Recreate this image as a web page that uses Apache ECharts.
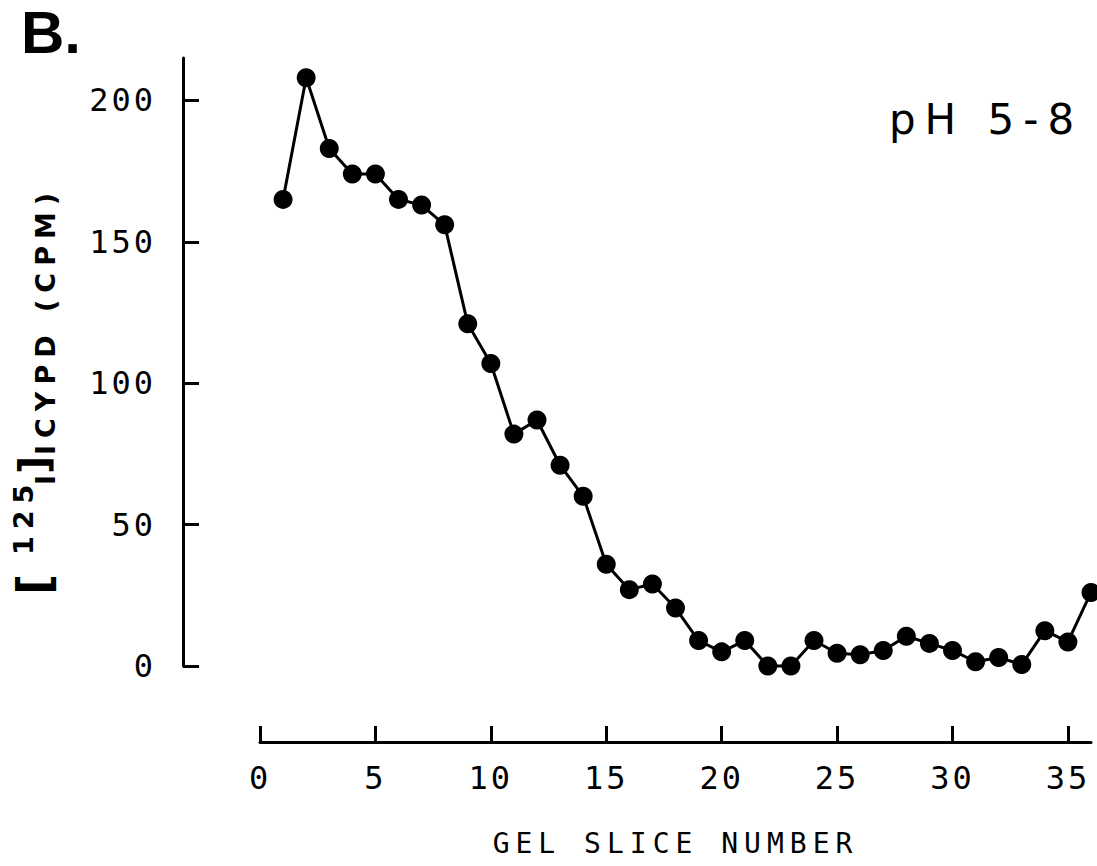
<!DOCTYPE html>
<html>
<head>
<meta charset="utf-8">
<script src="https://cdn.jsdelivr.net/npm/echarts@6/dist/echarts.min.js"></script>
<style>
  html, body { margin: 0; padding: 0; background: #fff; }
  #chart { width: 1097px; height: 866px; }
  text[style*="lsP"] { letter-spacing: 9px; }
  text[style*="lsX"] { letter-spacing: 6px; }
  text[style*="lsY"] { letter-spacing: 7px; }
  text[style*="lsS"] { letter-spacing: 7px; }
  text[style*="lsT"] { letter-spacing: 3px; }
</style>
</head>
<body>
<div id="chart"></div>
<script>
// Data
const slices = [1,2,3,4,5,6,7,8,9,10,11,12,13,14,15,16,17,18,19,20,21,22,23,24,25,26,27,28,29,30,31,32,33,34,35,36];
const cpm = [165,208,183,174,174,165,163,156,121,107,82,87,71,60,36,27,29,20.5,9,5,9,0,0,9,4.5,4,5.5,10.5,8,5.5,1.5,3,0.5,12.5,8.5,26];
const xTicks = [0,5,10,15,20,25,30,35];
const yTicks = [0,50,100,150,200];
const xTitle = 'GEL SLICE NUMBER';
const panelLabel = 'B.';
const condition = 'pH 5-8';

const chart = echarts.init(document.getElementById('chart'), null, { renderer: 'svg' });

const seriesData = slices.map((s, i) => [s, cpm[i]]);

const capFont = "'DejaVu Sans', lsY";
const option = {
  backgroundColor: '#ffffff',
  animation: false,
  grid: { left: 260, right: 6, top: 58, bottom: 200, containLabel: false, outerBoundsMode: 'none' },
  xAxis: {
    type: 'value',
    min: 0,
    max: 36,
    interval: 5,
    offset: 76,
    position: 'bottom',
    name: xTitle,
    nameLocation: 'middle',
    nameGap: 101,
    nameTextStyle: { fontSize: 28, fontFamily: "'DejaVu Sans Mono', lsX", color: '#000', verticalAlign: 'middle' },
    axisLine: { show: true, onZero: false, lineStyle: { color: '#000', width: 3 } },
    axisTick: { show: true, inside: true, length: 16, lineStyle: { color: '#000', width: 3 }, customValues: xTicks },
    axisLabel: { show: true, customValues: xTicks, margin: 36, verticalAlign: 'middle', fontSize: 32, fontFamily: "'DejaVu Sans Mono', lsT", color: '#000' },
    splitLine: { show: false }
  },
  yAxis: {
    type: 'value',
    min: 0,
    max: 215,
    interval: 50,
    offset: 77,
    position: 'left',
    axisLine: { show: true, onZero: false, lineStyle: { color: '#000', width: 3 } },
    axisTick: { show: true, inside: true, length: 16, lineStyle: { color: '#000', width: 3 }, customValues: yTicks },
    axisLabel: { show: true, customValues: yTicks, margin: 27, fontSize: 32, fontFamily: "'DejaVu Sans Mono', lsT", color: '#000' },
    splitLine: { show: false }
  },
  series: [{
    type: 'line',
    data: seriesData,
    clip: false,
    symbol: 'circle',
    symbolSize: 19,
    itemStyle: { color: '#000' },
    lineStyle: { color: '#000', width: 3 }
  }],
  graphic: [
    {
      type: 'text', x: 21, y: 32,
      style: { text: panelLabel, fontSize: 60, fontWeight: 'bold', fontFamily: 'Liberation Sans', fill: '#000', align: 'left', verticalAlign: 'middle' }
    },
    {
      type: 'text', x: 986, y: 119,
      style: { text: condition, fontSize: 42, fontFamily: "'DejaVu Sans', lsP", fill: '#000', align: 'center', verticalAlign: 'middle' }
    },
    {
      type: 'group', x: 45, y: 595, rotation: Math.PI / 2,
      children: [
        { type: 'text', x: 0, y: -11, style: { text: '[', fontSize: 46, fontWeight: 'bold', fontFamily: 'DejaVu Sans', fill: '#000', align: 'left', verticalAlign: 'middle' } },
        { type: 'text', x: 40, y: -22, style: { text: '125', fontSize: 27, fontWeight: 'bold', fontFamily: "'DejaVu Sans', lsS", fill: '#000', align: 'left', verticalAlign: 'middle' } },
        { type: 'text', x: 110, y: 0, style: { text: 'I', fontSize: 27, fontWeight: 'bold', fontFamily: 'DejaVu Sans', fill: '#000', align: 'left', verticalAlign: 'middle' } },
        { type: 'text', x: 121, y: -11, style: { text: ']', fontSize: 40, fontWeight: 'bold', fontFamily: 'DejaVu Sans', fill: '#000', align: 'left', verticalAlign: 'middle' } },
        { type: 'text', x: 140, y: 0, style: { text: 'ICYPD (CPM)', fontSize: 27, fontWeight: 'bold', fontFamily: capFont, fill: '#000', align: 'left', verticalAlign: 'middle' } }
      ]
    }
  ]
};
chart.setOption(option);
</script>
</body>
</html>
